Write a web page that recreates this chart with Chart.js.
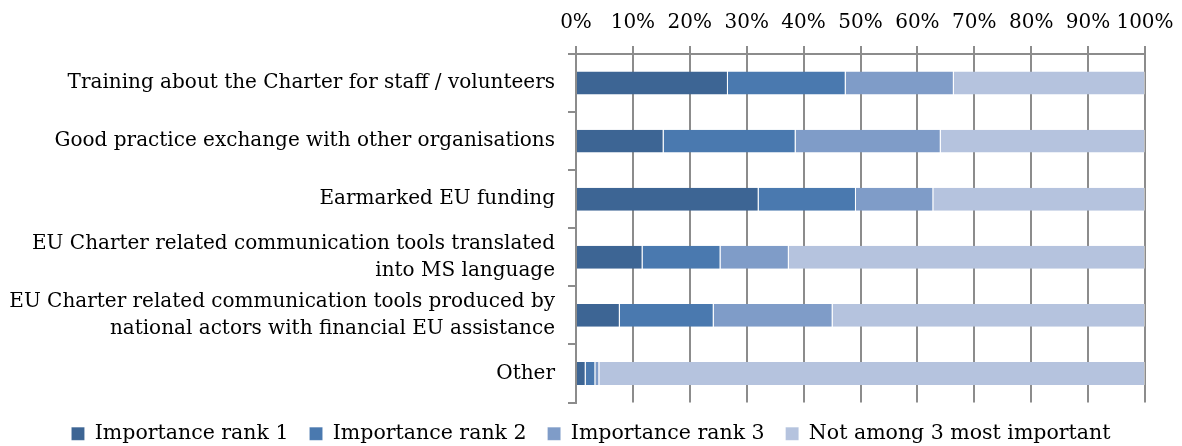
<!DOCTYPE html>
<html>
<head>
<meta charset="utf-8">
<script src="https://cdn.jsdelivr.net/npm/chart.js@4"></script>
<style>
  html, body { margin: 0; padding: 0; background: #fff; }
  #wrap { width: 1182px; height: 446px; }
</style>
</head>
<body>
<div id="wrap"><canvas id="barChart"></canvas></div>
<script>
Chart.defaults.color = '#000';
Chart.defaults.font.family = "'DejaVu Serif', serif";
Chart.defaults.font.size = 20;

const categorias = [
    'Training about the Charter for staff / volunteers',
    'Good practice exchange with other organisations',
    'Earmarked EU funding',
    ['EU Charter related communication tools translated', 'into MS language'],
    ['EU Charter related communication tools produced by', 'national actors with financial EU assistance'],
    'Other'
];
const series = ['Importance rank 1', 'Importance rank 2', 'Importance rank 3', 'Not among 3 most important'];
const rank1 = [26.7, 15.4, 32.1, 11.7, 7.7, 1.7];
const rank2 = [20.7, 23.2, 17.1, 13.7, 16.5, 1.7];
const rank3 = [19.0, 25.5, 13.6, 12.0, 20.9, 0.7];
const notAmong = [33.6, 35.9, 37.2, 62.6, 54.9, 95.9];
const ticksX = [0, 10, 20, 30, 40, 50, 60, 70, 80, 90, 100];

const colores = ['#3D6594', '#4A79AF', '#7F9CC8', '#B5C3DE'];
const gris = '#8C8C8C';

// la leyenda queda mas abajo, pegada al borde
const leyendaAbajo = {
    id: 'leyendaAbajo',
    beforeInit(chart) {
        const fitOrig = chart.legend.fit;
        chart.legend.fit = function () {
            fitOrig.bind(chart.legend)();
            this.height -= 8;
        };
    }
};

const printChart = () => {
    const valores = [rank1, rank2, rank3, notAmong];
    const data = {
        labels: categorias,
        datasets: valores.map((v, i) => ({
            label: series[i],
            data: v,
            backgroundColor: colores[i],
            borderColor: 'rgba(255,255,255,0.45)',
            borderWidth: { right: 1, left: 0, top: 0, bottom: 0 },
            borderSkipped: false,
            categoryPercentage: 1,
            barPercentage: 0.395
        }))
    };

    const options = {
        indexAxis: 'y',
        responsive: true,
        maintainAspectRatio: false,
        animation: false,
        layout: {
            padding: { left: 0, right: 0, top: 0, bottom: 0 }
        },
        plugins: {
            legend: {
                position: 'bottom',
                labels: {
                    boxWidth: 13,
                    boxHeight: 13,
                    padding: 21,
                    font: { size: 20.5 }
                }
            },
            tooltip: { enabled: false }
        },
        scales: {
            x: {
                position: 'top',
                stacked: true,
                min: 0,
                max: 100,
                afterBuildTicks: (scale) => {
                    scale.ticks = ticksX.map(v => ({ value: v }));
                },
                afterFit: (scale) => { scale.paddingRight = 37; },
                ticks: {
                    callback: (v) => v + '%',
                    padding: 11,
                    autoSkip: false,
                    maxRotation: 0,
                    font: { size: 20 }
                },
                grid: {
                    color: gris,
                    lineWidth: 2,
                    tickLength: 8
                },
                border: { color: gris, width: 2 }
            },
            y: {
                stacked: true,
                afterFit: (scale) => { scale.width = 576; },
                ticks: {
                    padding: 13,
                    font: { size: 20, lineHeight: 1.35 }
                },
                grid: {
                    drawOnChartArea: false,
                    color: gris,
                    lineWidth: 2,
                    tickLength: 8
                },
                border: { color: gris, width: 2 }
            }
        }
    };

    new Chart('barChart', { type: 'bar', data, options, plugins: [leyendaAbajo] });
};
printChart();
</script>
</body>
</html>
